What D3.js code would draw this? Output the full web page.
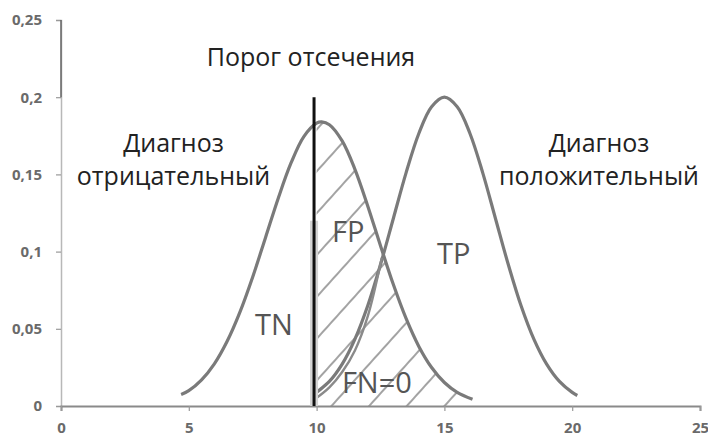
<!DOCTYPE html>
<html>
<head>
<meta charset="utf-8">
<script src="https://cdn.jsdelivr.net/npm/d3@7"></script>
<style>
  body { margin: 0; background: #fff; }
  svg { display: block; }
</style>
</head>
<body>
<div id="chart"></div>
<script>
// values
var xTicks = [0, 5, 10, 15, 20, 25];
var yTicks = [0, 0.05, 0.1, 0.15, 0.2, 0.25];

// "Диагноз отрицательный" curve
var negX = [4.7, 5, 5.5, 6, 6.5, 7, 7.5, 8, 8.5, 9, 9.5, 10, 10.2, 10.5, 11, 11.5, 12, 12.5, 13, 13.5, 14, 14.5, 15, 15.5, 16.1];
var negY = [0.0075, 0.0099, 0.0169, 0.0273, 0.0419, 0.0608, 0.0836, 0.109, 0.1346, 0.1574, 0.1745, 0.1832, 0.184, 0.1822, 0.1717, 0.1533, 0.1296, 0.1038, 0.0788, 0.0567, 0.0386, 0.0249, 0.0152, 0.0088, 0.0043];

// "Диагноз положительный" curve
var posX = [9.9, 10, 10.5, 11, 11.5, 12, 12.5, 13, 13.5, 14, 14.5, 15, 15.5, 16, 16.5, 17, 17.5, 18, 18.5, 19, 19.5, 20, 20.2];
var posY = [0.0072, 0.0088, 0.0159, 0.0271, 0.0433, 0.0649, 0.0916, 0.1213, 0.151, 0.1765, 0.1938, 0.2, 0.1938, 0.1765, 0.151, 0.1213, 0.0916, 0.0649, 0.0433, 0.0271, 0.0159, 0.0088, 0.0068];

// second edge drawn under the FN area
var fnX = [9.9, 10.5, 11, 11.5, 12, 12.55];
var fnY = [0.004, 0.012, 0.022, 0.036, 0.058, 0.096];

var cutoff = 9.9;
var cutoffTop = 0.2;
var cutoffBand = 0.12;

var width = 708, height = 437;

var x = d3.scaleLinear().domain([0, 25]).range([61, 700]);
var y = d3.scaleLinear().domain([0, 0.25]).range([406, 20]);

var svg = d3.select("#chart").append("svg")
    .attr("width", width)
    .attr("height", height);

// hatch pattern
svg.append("defs").append("pattern")
    .attr("id", "hatch")
    .attr("patternUnits", "userSpaceOnUse")
    .attr("width", 28)
    .attr("height", 28)
    .attr("patternTransform", "rotate(-48)")
    .append("line")
    .attr("x1", -2).attr("x2", 30)
    .attr("y1", 14).attr("y2", 14)
    .attr("stroke", "#8c8c8c")
    .attr("stroke-width", 1.6);

function zip(xs, ys) {
    return xs.map(function(d, i) { return [d, ys[i]]; });
}
var neg = zip(negX, negY);
var pos = zip(posX, posY);
var fn = zip(fnX, fnY);

var line = d3.line()
    .x(function(d) { return x(d[0]); })
    .y(function(d) { return y(d[1]); })
    .curve(d3.curveCatmullRom.alpha(0.5));

var area = d3.area()
    .x(function(d) { return x(d[0]); })
    .y0(y(0))
    .y1(function(d) { return y(d[1]); })
    .curve(d3.curveCatmullRom.alpha(0.5));

// axes
var yAxis = d3.axisLeft(y)
    .tickValues(yTicks)
    .tickSize(5)
    .tickPadding(14)
    .tickFormat(function(d) { return String(d).replace(".", ","); });

var xAxis = d3.axisBottom(x)
    .tickValues(xTicks)
    .tickSize(5)
    .tickPadding(11)
    .tickFormat(d3.format("d"));

function styleAxis(g) {
    g.selectAll(".tick line").attr("stroke", "#999").attr("stroke-width", 1.2);
    g.selectAll(".tick text")
        .attr("fill", "#6a6a6a")
        .style("font-family", "'Open Sans', sans-serif")
        .style("font-weight", "bold")
        .style("font-size", "15px");
}

var gy = svg.append("g")
    .attr("transform", "translate(" + x(0) + ",0)")
    .call(yAxis);
gy.select(".domain").attr("stroke", "#b8b8b8").attr("stroke-width", 1.5);
styleAxis(gy);

// darker top part of the y axis
svg.append("line")
    .attr("x1", x(0)).attr("x2", x(0))
    .attr("y1", y(0.25)).attr("y2", y(0.2))
    .attr("stroke", "#666")
    .attr("stroke-width", 1.5);

var gx = svg.append("g")
    .attr("transform", "translate(0," + y(0) + ")")
    .call(xAxis);
gx.select(".domain").attr("stroke", "#8a8a8a").attr("stroke-width", 2);
styleAxis(gx);

// hatched area right of the cutoff
svg.append("path")
    .datum(neg.filter(function(d) { return d[0] >= cutoff; }))
    .attr("d", area)
    .attr("fill", "url(#hatch)");

// curves
svg.append("path")
    .datum(neg)
    .attr("d", line)
    .attr("fill", "none")
    .attr("stroke", "#7a7a7a")
    .attr("stroke-width", 3.2);

svg.append("path")
    .datum(pos)
    .attr("d", line)
    .attr("fill", "none")
    .attr("stroke", "#7a7a7a")
    .attr("stroke-width", 3.2);

svg.append("path")
    .datum(fn)
    .attr("d", line)
    .attr("fill", "none")
    .attr("stroke", "#8a8a8a")
    .attr("stroke-width", 2.4);

// cutoff line
svg.append("line")
    .attr("x1", x(cutoff)).attr("x2", x(cutoff))
    .attr("y1", y(0)).attr("y2", y(cutoffBand))
    .attr("stroke", "#d4d4d4")
    .attr("stroke-width", 8);

svg.append("line")
    .attr("x1", x(cutoff)).attr("x2", x(cutoff))
    .attr("y1", y(0)).attr("y2", y(cutoffTop))
    .attr("stroke", "#111")
    .attr("stroke-width", 3);

// texts
function label(txt, px, py, size, fill, anchor) {
    svg.append("text")
        .attr("x", px)
        .attr("y", py)
        .attr("text-anchor", anchor || "start")
        .attr("fill", fill)
        .style("font-family", "'Open Sans', sans-serif")
        .style("font-size", size + "px")
        .text(txt);
}

label("Порог отсечения", x(9.78), y(0.2202), 25, "#222", "middle");
label("Диагноз", x(4.4), y(0.1645), 25, "#222", "middle");
label("отрицательный", x(4.4), y(0.143), 25, "#222", "middle");
label("Диагноз", x(21.05), y(0.1645), 25, "#222", "middle");
label("положительный", x(21.05), y(0.143), 25, "#222", "middle");

label("TN", x(7.59), y(0.046), 29, "#555");
label("FP", x(10.6), y(0.106), 29, "#555");
label("TP", x(14.71), y(0.092), 29, "#555");
label("FN=0", x(10.99), y(0.0084), 29, "#555");
</script>
</body>
</html>
